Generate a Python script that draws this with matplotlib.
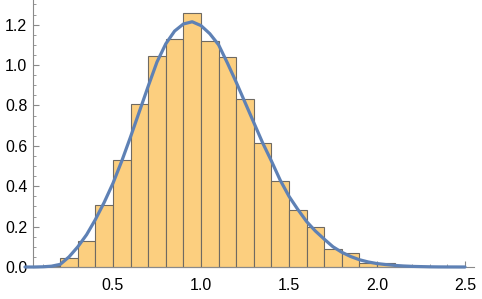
import matplotlib
matplotlib.use("Agg")
import matplotlib.pyplot as plt
from matplotlib.ticker import MultipleLocator, FormatStrFormatter

# histogram: left bin edges (width 0.1) and densities
bin_left = [0.1, 0.2, 0.3, 0.4, 0.5, 0.6, 0.7, 0.8, 0.9, 1.0, 1.1, 1.2,
            1.3, 1.4, 1.5, 1.6, 1.7, 1.8, 1.9, 2.0, 2.1, 2.2, 2.3, 2.4]
density = [0.005, 0.043, 0.129, 0.305, 0.528, 0.805, 1.046, 1.127, 1.256,
           1.12, 1.038, 0.83, 0.615, 0.424, 0.28, 0.20, 0.088, 0.068,
           0.018, 0.02, 0.008, 0.006, 0.002, 0.002]

# fitted pdf curve, sampled every 0.05
curve_x = [0.0, 0.05, 0.1, 0.15, 0.2, 0.25, 0.3, 0.35, 0.4, 0.45, 0.5,
           0.55, 0.6, 0.65, 0.7, 0.75, 0.8, 0.85, 0.9, 0.95, 1.0, 1.05,
           1.1, 1.15, 1.2, 1.25, 1.3, 1.35, 1.4, 1.45, 1.5, 1.55, 1.6,
           1.65, 1.7, 1.75, 1.8, 1.85, 1.9, 1.95, 2.0, 2.05, 2.1, 2.15,
           2.2, 2.25, 2.3, 2.35, 2.4, 2.45, 2.5]
curve_y = [0.0, 0.0, 0.001, 0.004, 0.013, 0.05, 0.10, 0.16, 0.235, 0.32,
           0.415, 0.525, 0.645, 0.77, 0.895, 1.015, 1.105, 1.168, 1.203,
           1.214, 1.195, 1.155, 1.10, 1.01, 0.915, 0.815, 0.715, 0.615,
           0.525, 0.43, 0.35, 0.285, 0.225, 0.178, 0.138, 0.10, 0.073,
           0.052, 0.036, 0.025, 0.017, 0.012, 0.008, 0.005, 0.003, 0.002,
           0.001, 0.0005, 0.0003, 0.0002, 0.0]

W, H = 482, 299
fig = plt.figure(figsize=(W / 100, H / 100), dpi=100)
# axes placed in pixel terms: x=0 at px 25, y=0 at px 267
x0, x1 = 0.0, (W - 25) / 176
y0, y1 = -3 / 202, 267 / 202
ax = fig.add_axes([25 / W, (H - 270) / H, (W - 25) / W, 270 / H])
ax.set_xlim(x0, x1)
ax.set_ylim(y0, y1)

ax.bar(bin_left, density, width=0.1, align='edge', color='#fccf7f',
       edgecolor='#6f6a62', linewidth=0.8, zorder=2)
ax.plot(curve_x, curve_y, color='#5e81b5', linewidth=2.3,
        solid_capstyle='round', zorder=3, clip_on=False)

for s in ['top', 'right']:
    ax.spines[s].set_visible(False)
ax.spines['left'].set_position(('data', 0.045))
ax.spines['bottom'].set_position(('data', 0.0))
ax.spines['left'].set_bounds(0.0, y1)
ax.spines['bottom'].set_bounds(0.045, 2.55)
for s in ['left', 'bottom']:
    ax.spines[s].set_color('#8a8a8a')
    ax.spines[s].set_linewidth(0.8)

ax.xaxis.set_major_locator(MultipleLocator(0.5))
ax.xaxis.set_minor_locator(MultipleLocator(0.1))
ax.yaxis.set_major_locator(MultipleLocator(0.2))
ax.yaxis.set_minor_locator(MultipleLocator(0.05))
ax.xaxis.set_major_formatter(FormatStrFormatter('%.1f'))
ax.yaxis.set_major_formatter(FormatStrFormatter('%.1f'))
ax.set_xticks([0.5, 1.0, 1.5, 2.0, 2.5])

ax.tick_params(which='major', direction='in', length=4, width=0.8,
               color='#8a8a8a', labelsize=11.5, labelcolor='black')
ax.tick_params(which='minor', direction='in', length=2.2, width=0.6,
               color='#8a8a8a')
ax.tick_params(axis='x', which='major', pad=8)
ax.tick_params(axis='y', which='major', pad=4)
for lab in ax.get_xticklabels() + ax.get_yticklabels():
    lab.set_family('Liberation Sans')

fig.savefig('out.png', dpi=100)
